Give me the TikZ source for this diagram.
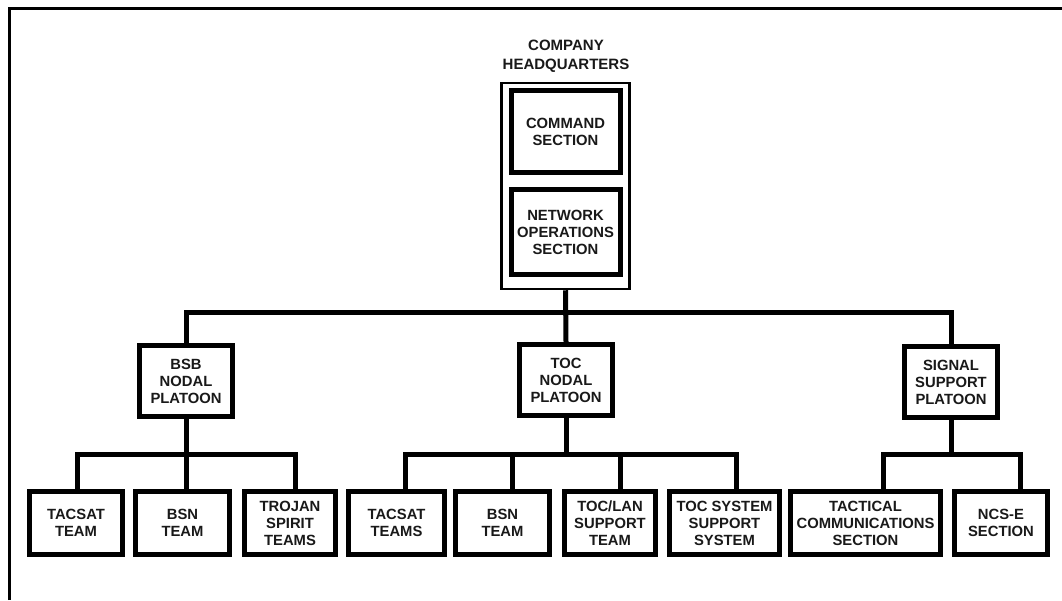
\documentclass[tikz,border=0pt]{standalone}
\usepackage{fontspec}
\setmainfont{Liberation Sans}
\begin{document}
\begin{tikzpicture}[x=1pt,y=-1pt,
  unit/.style={draw, rectangle, line width=5pt, inner sep=0pt, align=center,
    font=\bfseries\fontsize{14.8}{17}\selectfont, text=black!90},
  leaf/.style={unit, minimum height=63pt},
  platoon/.style={unit, minimum width=93pt, minimum height=71pt},
  hqbox/.style={draw, rectangle, line width=2.5pt, inner sep=0pt},
  link/.style={line width=5pt},
  frameline/.style={line width=3.5pt}
]
\useasboundingbox (0,0) rectangle (1062,600);
\fill[white] (0,0) rectangle (1062,600);

% sheet frame
\draw[frameline] (9.5,600) -- (9.5,8.5) -- (1062,8.5);

% company headquarters
\node[font=\bfseries\fontsize{15}{19}\selectfont, align=center, inner sep=0pt, text=black!90]
  (hqlabel) at (566,56.5) {COMPANY\\HEADQUARTERS};
\node[hqbox, minimum width=128pt, minimum height=206pt] (hq) at (565.5,186) {};
\node[unit, minimum width=109pt, minimum height=82pt] (cmd) at (565.5,131.5) {COMMAND\\SECTION};
\node[unit, minimum width=109pt, minimum height=85pt] (netops) at (565.5,232) {NETWORK\\OPERATIONS\\SECTION};

% platoons
\node[platoon] (bsb) at (186,381) {BSB\\NODAL\\PLATOON};
\node[platoon] (toc) at (566,380) {TOC\\NODAL\\PLATOON};
\node[platoon] (sig) at (951,382) {SIGNAL\\SUPPORT\\PLATOON};

% teams and sections
\node[leaf, minimum width=93pt] (l1) at (76,523) {TACSAT\\TEAM};
\node[leaf, minimum width=94pt] (l2) at (182.5,523) {BSN\\TEAM};
\node[leaf, minimum width=91pt] (l3) at (290,523) {TROJAN\\SPIRIT\\TEAMS};
\node[leaf, minimum width=96pt] (l4) at (396.5,523) {TACSAT\\TEAMS};
\node[leaf, minimum width=94pt] (l5) at (502.5,523) {BSN\\TEAM};
\node[leaf, minimum width=91pt] (l6) at (610,523) {TOC/LAN\\SUPPORT\\TEAM};
\node[leaf, minimum width=110pt] (l7) at (724.5,523) {TOC SYSTEM\\SUPPORT\\SYSTEM};
\node[leaf, minimum width=150pt] (l8) at (865.5,523) {TACTICAL\\COMMUNICATIONS\\SECTION};
\node[leaf, minimum width=93pt] (l9) at (1001,523) {NCS-E\\SECTION};

% branch points
\coordinate (mainbar) at (566,312);
\coordinate (b1) at (77,454);
\coordinate (b3) at (295,454);
\coordinate (t1) at (405,454);
\coordinate (t2) at (512,454);
\coordinate (t3) at (620,454);
\coordinate (t4) at (736,454);
\coordinate (s1) at (883,454);
\coordinate (s2) at (1020,454);

% headquarters to platoons
\draw[link] (hq.south) -- (toc.north);
\draw[link] (bsb.north) -- (bsb.north |- mainbar) -- (sig.north |- mainbar) -- (sig.north);

% BSB nodal platoon
\draw[link] (bsb.south) -- (bsb.south |- b1);
\draw[link] (b1 |- l1.north) -- (b1) -- (b3) -- (b3 |- l3.north);
\draw[link] (bsb.south |- b1) -- (bsb.south |- l2.north);

% TOC nodal platoon
\draw[link] (toc.south) -- (toc.south |- t1);
\draw[link] (t1 |- l4.north) -- (t1) -- (t4) -- (t4 |- l7.north);
\draw[link] (t2) -- (t2 |- l5.north);
\draw[link] (t3) -- (t3 |- l6.north);

% signal support platoon
\draw[link] (sig.south) -- (sig.south |- s1);
\draw[link] (s1 |- l8.north) -- (s1) -- (s2) -- (s2 |- l9.north);
\end{tikzpicture}
\end{document}
